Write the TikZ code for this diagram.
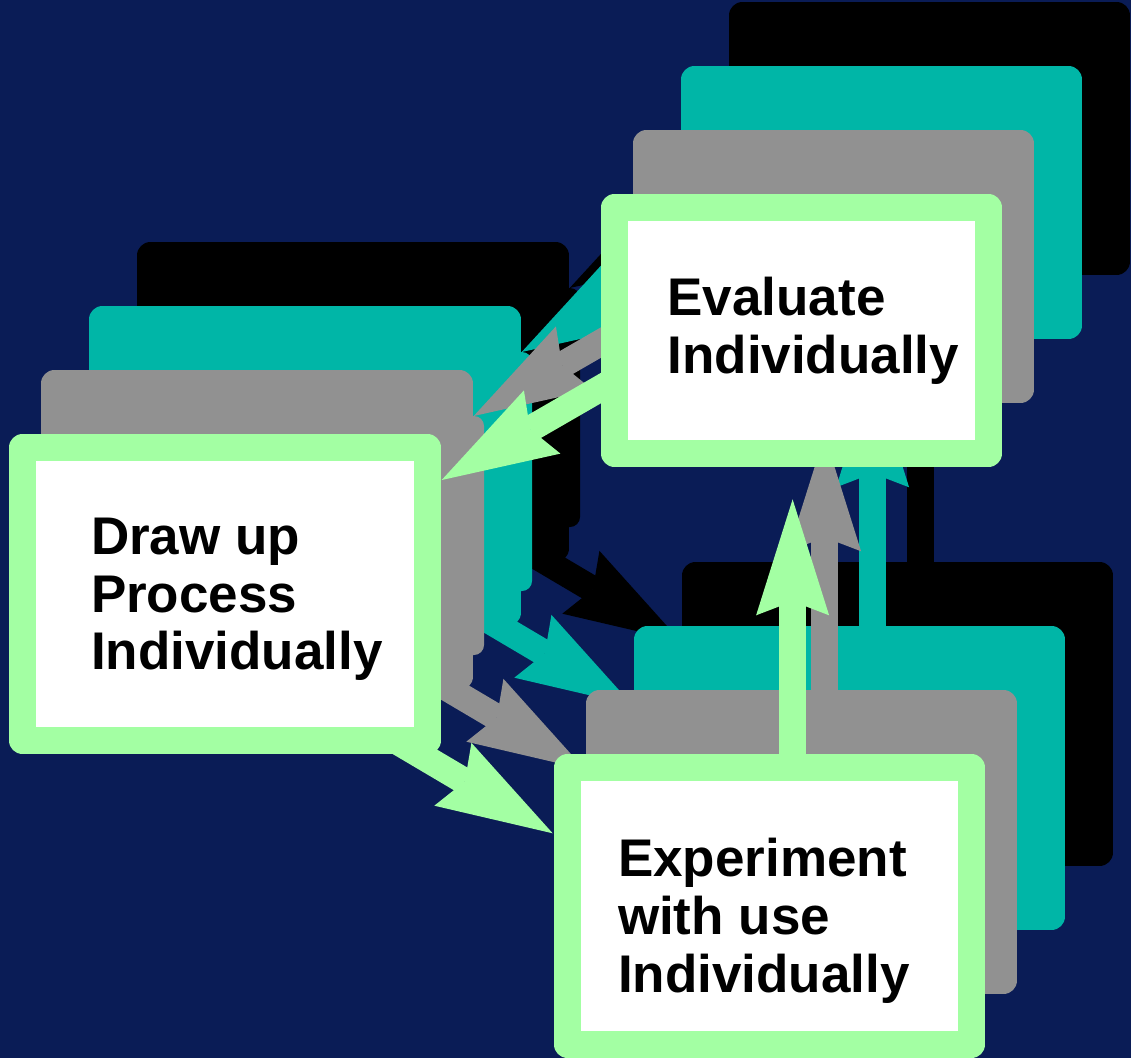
\documentclass[tikz,border=0pt]{standalone}
\usepackage{fontspec}
\setmainfont{Liberation Sans}
\usetikzlibrary{arrows.meta,calc}
\definecolor{navybg}{RGB}{10,28,86}
\definecolor{tealc}{RGB}{0,182,167}
\definecolor{grayc}{RGB}{145,145,145}
\definecolor{lgreen}{RGB}{163,255,163}
\tikzset{
  arr/.style={line width=26.4pt, -{Stealth[length=116pt,width=73pt,inset=14pt,line width=0pt]}},
  framebox/.style={rectangle, draw=lgreen, fill=white, line width=27pt, line join=round, inner sep=0pt},
  solidbox/.style={rectangle, draw=#1, fill=#1, line width=27pt, line join=round, inner sep=0pt},
  boxtext/.style={anchor=north west, inner sep=0pt, outer sep=0pt, align=left, text=black,
    font=\fontsize{53pt}{57.6pt}\selectfont\bfseries},
  dsize/.style={minimum width=405pt, minimum height=293pt},
  esize/.style={minimum width=374pt, minimum height=246pt},
  xsize/.style={minimum width=404pt, minimum height=277pt},
}
\newcommand\shadowlayer[3]{%
  \begin{scope}[shift={#3}]
    \coordinate (sa#1) at (684.2,340);   \coordinate (ta#1) at (441.7,480);
    \coordinate (sb#1) at (337.4,706);   \coordinate (tb#1) at (552.7,833.3);
    \coordinate (sc#1) at (792.6,880);   \coordinate (tc#1) at (792.6,499.3);
    \draw[arr, color=#2] (sa#1) -- (ta#1);
    \draw[arr, color=#2] (sb#1) -- (tb#1);
    \draw[arr, color=#2] (sc#1) -- (tc#1);
    \node[solidbox=#2, dsize] (d#1) at (225,594) {};
    \node[solidbox=#2, esize] (e#1) at (801.5,330.5) {};
    \node[solidbox=#2, xsize] (x#1) at (769.5,906) {};
    \fill[#2, rounded corners=10pt] (430,480) rectangle (452,719);
  \end{scope}}
\begin{document}
\begin{tikzpicture}[x=1pt,y=-1pt]
  \useasboundingbox (0,0) rectangle (1131,1058);
  \fill[navybg] (0,0) rectangle (1131,1058);
  \shadowlayer{k}{black}{(128,-192)}
  \shadowlayer{t}{tealc}{(80,-128)}
  \shadowlayer{g}{grayc}{(32,-64)}
  % front layer
  \coordinate (saf) at (684.2,340);   \coordinate (taf) at (441.7,480);
  \coordinate (sbf) at (337.4,706);   \coordinate (tbf) at (552.7,833.3);
  \coordinate (scf) at (792.6,880);   \coordinate (tcf) at (792.6,499.3);
  \draw[arr, color=lgreen] (saf) -- (taf);
  \draw[arr, color=lgreen] (sbf) -- (tbf);
  \draw[arr, color=lgreen] (scf) -- (tcf);
  \node[framebox, dsize] (df) at (225,594) {};
  \node[framebox, esize] (ef) at (801.5,330.5) {};
  \node[framebox, xsize] (xf) at (769.5,906) {};
  \node[boxtext] (tdraw) at (91,518) {Draw up\\Process\\Individually};
  \node[boxtext] (teval) at (667.5,277.5) {Evaluate\\Individually};
  \node[boxtext] (texp) at (618,838.5) {Experiment\\with use\\Individually};
\end{tikzpicture}
\end{document}
